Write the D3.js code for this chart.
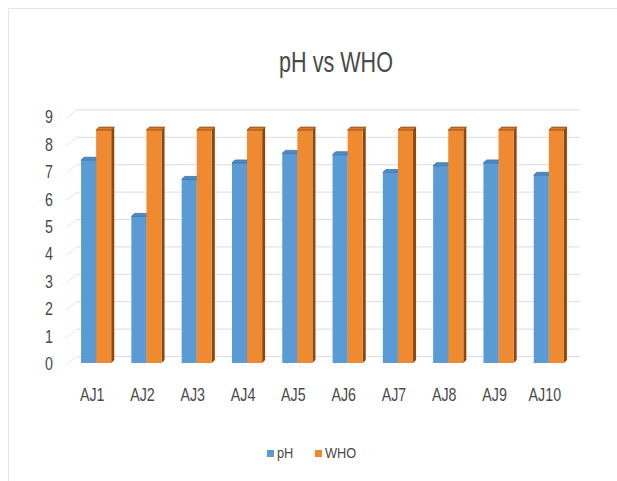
<!DOCTYPE html>
<html lang="en">
<head>
<meta charset="utf-8"/>
<title>pH vs WHO</title>
<script src="https://d3js.org/d3.v7.min.js"></script>
<style>
  body { margin: 0; background: #fff; }
  text { font-family: "Liberation Sans", Arial, sans-serif; fill: #4a4a4a; }
</style>
</head>
<body>
<div id="chart"></div>
<script>
// data
var categories = ["AJ1", "AJ2", "AJ3", "AJ4", "AJ5", "AJ6", "AJ7", "AJ8", "AJ9", "AJ10"];
var phValues  = [7.4, 5.35, 6.7, 7.3, 7.65, 7.6, 6.95, 7.2, 7.3, 6.85];
var whoValues = [8.5, 8.5, 8.5, 8.5, 8.5, 8.5, 8.5, 8.5, 8.5, 8.5];
var seriesNames = ["pH", "WHO"];
var yTicks = [0, 1, 2, 3, 4, 5, 6, 7, 8, 9];

var w = 617, h = 481;
var colour = d3.scaleOrdinal().domain(seriesNames).range(["#5b9bd5", "#f08a30"]);
var sideColour = { pH: "#3e6e9e", WHO: "#8c4810" };
var topColour = { pH: "#4f8cc6", WHO: "#d8782a" };

// depth of the 3D wall and of a bar
var wallDx = 6, wallDy = -7;
var barDx = 3, barDy = -3;

var svg = d3.select("#chart").append("svg")
    .attr("width", w)
    .attr("height", h);

// chart area border (cropped on the right)
svg.append("path")
    .attr("d", "M8.5," + h + "V8.5H" + w)
    .attr("fill", "none")
    .attr("stroke", "#e4e4e4");

var x = d3.scaleBand().domain(categories).range([71, 574]).paddingInner(0.4).paddingOuter(0.2);
var x1 = d3.scaleBand().domain(seriesNames).range([0, x.bandwidth()]);
var y = d3.scaleLinear().domain([0, 9]).range([363, 116.4]);

// back wall gridlines plus side wall stubs
var grid = svg.append("g");
yTicks.forEach(function(t) {
    grid.append("line")
        .attr("x1", 71 + wallDx).attr("x2", 580)
        .attr("y1", y(t) + wallDy + 0.5).attr("y2", y(t) + wallDy + 0.5)
        .attr("stroke", "#dcdcdc");
    grid.append("line")
        .attr("x1", 66).attr("x2", 71 + wallDx)
        .attr("y1", y(t) + 2).attr("y2", y(t) + wallDy + 0.5)
        .attr("stroke", "#e6e6e6");
});

// y labels
svg.append("g").selectAll("text")
    .data(yTicks)
    .enter().append("text")
    .attr("transform", function(d) { return "translate(53," + (y(d) + 7) + ") scale(0.75,1)"; })
    .attr("text-anchor", "end")
    .attr("font-size", 19)
    .text(function(d) { return d; });

// bars
var rows = categories.map(function(c, i) {
    return { cat: c, values: [{ key: "pH", value: phValues[i] }, { key: "WHO", value: whoValues[i] }] };
});

var groups = svg.append("g").selectAll("g.grp")
    .data(rows)
    .enter().append("g")
    .attr("class", "grp")
    .attr("transform", function(d) { return "translate(" + x(d.cat) + ",0)"; });

var bars = groups.selectAll("g.bar")
    .data(function(d) { return d.values; })
    .enter().append("g")
    .attr("class", "bar");

function sidePath(d) {
    var x0 = x1(d.key) + x1.bandwidth(), t = y(d.value), b = y(0);
    return "M" + x0 + "," + t + "L" + (x0 + barDx) + "," + (t + barDy) +
           "L" + (x0 + barDx) + "," + (b + barDy) + "L" + x0 + "," + b + "Z";
}
function topPath(d) {
    var x0 = x1(d.key), bw = x1.bandwidth(), t = y(d.value);
    return "M" + x0 + "," + t + "L" + (x0 + barDx) + "," + (t + barDy) +
           "L" + (x0 + bw + barDx) + "," + (t + barDy) + "L" + (x0 + bw) + "," + t + "Z";
}

bars.append("path")
    .attr("d", sidePath)
    .attr("fill", function(d) { return sideColour[d.key]; });
bars.append("rect")
    .attr("x", function(d) { return x1(d.key); })
    .attr("y", function(d) { return y(d.value); })
    .attr("width", x1.bandwidth())
    .attr("height", function(d) { return y(0) - y(d.value); })
    .attr("fill", function(d) { return colour(d.key); });
bars.append("path")
    .attr("d", topPath)
    .attr("fill", function(d) { return topColour[d.key]; })
    .attr("stroke", function(d) { return sideColour[d.key]; })
    .attr("stroke-width", 0.8);

// category labels
svg.append("g").selectAll("text")
    .data(categories)
    .enter().append("text")
    .attr("transform", function(d) {
        return "translate(" + (x(d) + x.bandwidth() / 2 - 4) + ",401) scale(0.75,1)";
    })
    .attr("text-anchor", "middle")
    .attr("font-size", 19)
    .text(function(d) { return d; });

// title
svg.append("text")
    .attr("transform", "translate(336,72) scale(0.72,1)")
    .attr("text-anchor", "middle")
    .attr("font-size", 30)
    .text("pH vs WHO");

// legend
var legendX = { pH: 267, WHO: 315 };
var legend = svg.append("g").selectAll("g")
    .data(seriesNames)
    .enter().append("g")
    .attr("transform", function(d) { return "translate(" + legendX[d] + ",450)"; });
legend.append("rect")
    .attr("width", 7).attr("height", 7)
    .attr("fill", function(d) { return colour(d); });
legend.append("text")
    .attr("transform", "translate(10,8) scale(0.85,1)")
    .attr("font-size", 15)
    .text(function(d) { return d; });
</script>
</body>
</html>
